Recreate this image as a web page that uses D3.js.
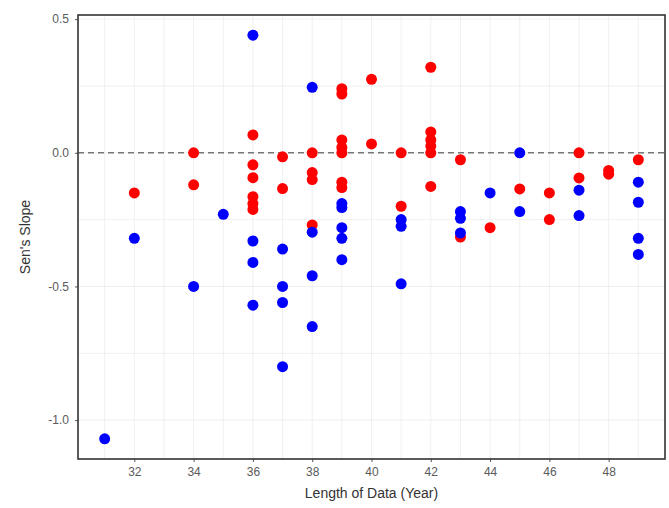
<!DOCTYPE html>
<html lang="en">
<head>
<meta charset="UTF-8">
<title>Sen's Slope vs Length of Data</title>
<style>
    body { margin: 0; background: #fff; }
    svg { display: block; font-family: "Liberation Sans", Arial, sans-serif; }
</style>
</head>
<body>
<div id="chart"></div>
<script src="https://cdn.jsdelivr.net/npm/d3@7"></script>
<script>
// red series (year, slope)
const redYears  = [32, 34, 34, 36, 36, 36, 36, 36, 36, 37, 37, 38, 38, 38, 38,
                   39, 39, 39, 39, 39, 39, 39, 40, 40, 41, 41,
                   42, 42, 42, 42, 42, 42, 43, 43, 44, 45, 46, 46, 47, 47, 48, 48, 49];
const redSlopes = [-0.15, 0.0, -0.12, 0.067, -0.045, -0.093, -0.164, -0.19, -0.212, -0.015, -0.134,
                   0.0, -0.074, -0.10, -0.27,
                   0.24, 0.22, 0.048, 0.02, 0.0, -0.11, -0.13, 0.275, 0.033, 0.0, -0.20,
                   0.32, 0.078, 0.048, 0.025, 0.0, -0.126, -0.026, -0.315, -0.28, -0.135,
                   -0.15, -0.25, 0.0, -0.094, -0.066, -0.08, -0.026];

// blue series (year, slope)
const blueYears  = [31, 32, 34, 35, 36, 36, 36, 36, 37, 37, 37, 37, 38, 38, 38, 38,
                    39, 39, 39, 39, 39, 41, 41, 41, 43, 43, 43, 44, 45, 45, 47, 47, 49, 49, 49, 49];
const blueSlopes = [-1.07, -0.32, -0.50, -0.23, 0.44, -0.33, -0.41, -0.57,
                    -0.36, -0.50, -0.56, -0.80, 0.245, -0.297, -0.46, -0.65,
                    -0.19, -0.205, -0.28, -0.32, -0.40, -0.25, -0.275, -0.49,
                    -0.22, -0.245, -0.30, -0.15, 0.0, -0.22, -0.14, -0.235,
                    -0.11, -0.185, -0.32, -0.38];

const xTicks = [32, 34, 36, 38, 40, 42, 44, 46, 48];
const yTicks = [0.5, 0.0, -0.5, -1.0];

const width = 669, height = 508;
const margin = {top: 15, right: 4, bottom: 49, left: 78};

const x = d3.scaleLinear().domain([30.1, 49.9]).range([margin.left, width - margin.right]);
const y = d3.scaleLinear().domain([-1.1455, 0.5155]).range([height - margin.bottom, margin.top]);

const svg = d3.select("#chart").append("svg")
    .attr("width", width)
    .attr("height", height);

// grid lines, one per year and every 0.25
const grid = svg.append("g").attr("stroke", "#ececec").attr("stroke-width", 0.8);
grid.selectAll("line.v")
    .data(d3.range(31, 50))
    .join("line")
    .attr("x1", d => x(d)).attr("x2", d => x(d))
    .attr("y1", margin.top).attr("y2", height - margin.bottom);
grid.selectAll("line.h")
    .data(d3.range(-1, 0.51, 0.25))
    .join("line")
    .attr("y1", d => y(d)).attr("y2", d => y(d))
    .attr("x1", margin.left).attr("x2", width - margin.right);

// zero reference line
svg.append("line")
    .attr("x1", margin.left).attr("x2", width - margin.right)
    .attr("y1", y(0)).attr("y2", y(0))
    .attr("stroke", "#777")
    .attr("stroke-width", 1.6)
    .attr("stroke-dasharray", "6,4");

// points: red first, blue drawn over it
const redData = redYears.map((d, i) => ({year: d, slope: redSlopes[i]}));
const blueData = blueYears.map((d, i) => ({year: d, slope: blueSlopes[i]}));

svg.append("g").attr("fill", "#ff0000")
    .selectAll("circle").data(redData).join("circle")
    .attr("cx", d => x(d.year)).attr("cy", d => y(d.slope)).attr("r", 5.5);

svg.append("g").attr("fill", "#0000ff")
    .selectAll("circle").data(blueData).join("circle")
    .attr("cx", d => x(d.year)).attr("cy", d => y(d.slope)).attr("r", 5.5);

// axes (plain hyphen for negatives, like the original)
const fmtY = d => d3.format(".1f")(d).replace("\u2212", "-");
const xAxis = svg.append("g")
    .attr("transform", `translate(0,${height - margin.bottom})`)
    .call(d3.axisBottom(x).tickValues(xTicks).tickFormat(d3.format("d")).tickSize(3).tickPadding(5));
const yAxis = svg.append("g")
    .attr("transform", `translate(${margin.left},0)`)
    .call(d3.axisLeft(y).tickValues(yTicks).tickFormat(fmtY).tickSize(3).tickPadding(6));

[xAxis, yAxis].forEach(a => {
    a.select(".domain").remove();
    a.selectAll(".tick line").attr("stroke", "#555");
    a.selectAll(".tick text").attr("fill", "#5a5a5a").style("font-size", "12px");
});

// panel border
svg.append("rect")
    .attr("x", margin.left).attr("y", margin.top)
    .attr("width", width - margin.left - margin.right)
    .attr("height", height - margin.top - margin.bottom)
    .attr("fill", "none")
    .attr("stroke", "#333")
    .attr("stroke-width", 1.6);

// axis titles
svg.append("text")
    .attr("x", (margin.left + width - margin.right) / 2)
    .attr("y", height - 10)
    .attr("text-anchor", "middle")
    .attr("fill", "#333")
    .style("font-size", "14px")
    .text("Length of Data (Year)");

svg.append("text")
    .attr("transform", `translate(30,${(margin.top + height - margin.bottom) / 2}) rotate(-90)`)
    .attr("text-anchor", "middle")
    .attr("fill", "#333")
    .style("font-size", "14px")
    .text("Sen's Slope");
</script>
</body>
</html>
